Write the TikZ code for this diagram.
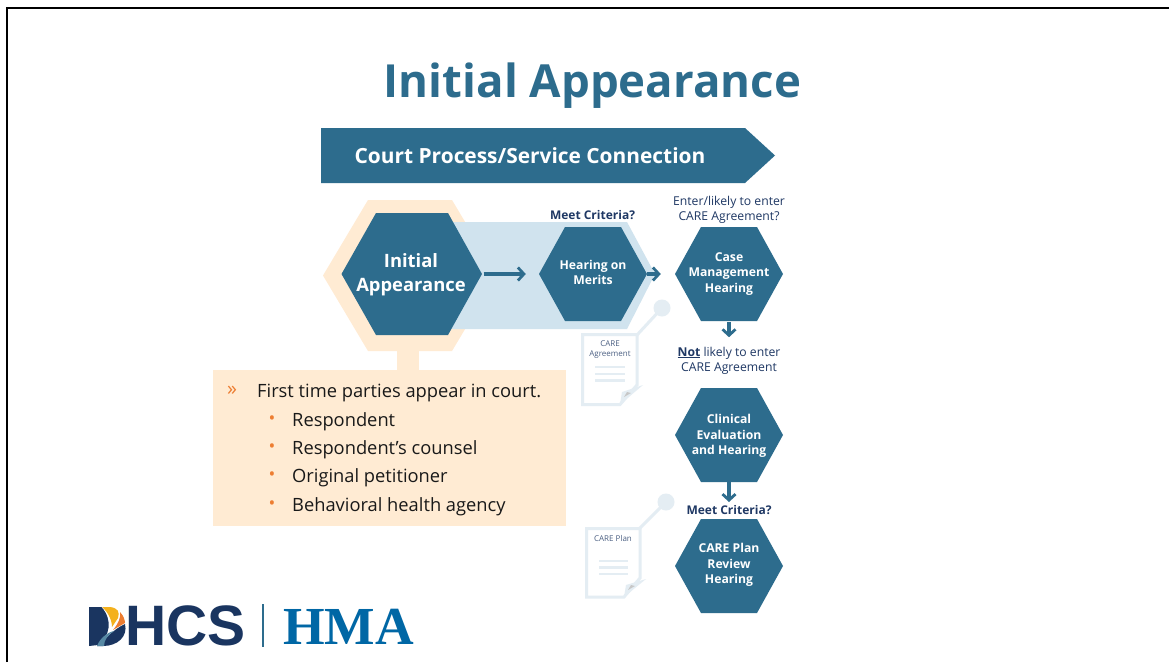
\documentclass[tikz,border=0pt]{standalone}
\usepackage{fontspec}
\setmainfont{Open Sans}
\newfontfamily\serifb{Liberation Serif}
\newfontfamily\sansb{Liberation Sans}
\usetikzlibrary{arrows.meta}
\definecolor{teal}{HTML}{2D6C8D}
\definecolor{cream}{HTML}{FFEBD3}
\definecolor{lblue}{HTML}{D0E3EE}
\definecolor{docc}{HTML}{E4EDF3}
\definecolor{navy}{HTML}{1F3864}
\definecolor{logon}{HTML}{1A3560}
\definecolor{hma}{HTML}{0067A5}
\definecolor{orng}{HTML}{ED7D31}
\tikzset{
  hexlabel/.style={text=white,font=\bfseries\fontsize{12.2}{15.5}\selectfont,align=center,inner sep=0pt},
  flow/.style={draw=teal,line width=3.2pt,-{Straight Barb[length=6pt,width=13pt,line width=2.8pt]}},
  caption/.style={text=navy,font=\fontsize{12.2}{15}\selectfont,align=center,inner sep=0pt},
  doc/.style={draw=docc,line width=3pt,fill=white,line join=miter},
  docline/.style={draw=docc,line width=2.4pt},
  item/.style={anchor=west,inner sep=0pt,text=black!90,font=\fontsize{18.3}{22}\selectfont},
  dot/.style={anchor=center,inner sep=0pt,text=orng,font=\fontsize{18}{20}\selectfont},
}
% cx cy halfwidth halfheight inset
\newcommand{\hexpath}[5]{(#1-#3,#2) -- (#1-#3+#5,#2-#4) -- (#1+#3-#5,#2-#4) -- (#1+#3,#2) -- (#1+#3-#5,#2+#4) -- (#1-#3+#5,#2+#4) -- cycle}
\newcommand{\hexnode}[5]{%
  \fill[teal] \hexpath{#2}{#3}{54}{47}{26};
  \node[inner sep=0pt,minimum width=108pt,minimum height=94pt] (#1) at (#2,#3) {};
  \node[hexlabel] (#1t) at (#2,#3+#4) {#5};}
\begin{document}
\begin{tikzpicture}[x=1pt,y=-1pt]
\useasboundingbox (0,0) rectangle (1169,662);
\fill[white] (0,0) rectangle (1169,662);
\draw[black,line width=2pt] (7,662) -- (7,8) -- (1169,8);
\node[text=teal,font=\bfseries\fontsize{45.6}{50}\selectfont,inner sep=0pt] (title) at (592.5,85.5) {Initial Appearance};
\fill[teal] (321,128) -- (745,128) -- (775,155.5) -- (745,183) -- (321,183) -- cycle;
\node[text=white,font=\bfseries\fontsize{20.9}{24}\selectfont,inner sep=0pt] (banner) at (530,155.5) {Court Process/Service Connection};
% highlights
\fill[cream] (323,275.5) -- (368,200) -- (452,200) -- (497,275.5) -- (452,351) -- (368,351) -- cycle;
\fill[cream] (397,345) rectangle (419,372);
\fill[lblue] (440,222) -- (627,222) -- (655,274) -- (627,329) -- (440,329) -- cycle;
% initial hex
\fill[teal] (341.5,274) -- (376,213) -- (448,213) -- (482,274) -- (448,335) -- (376,335) -- cycle;
\node[hexlabel,font=\bfseries\fontsize{18.4}{24}\selectfont,minimum width=141pt,minimum height=122pt] (initial) at (411,274.5) {Initial\\Appearance};
\hexnode{merits}{593}{274}{-1.5}{\fontsize{12.2}{15}\selectfont Hearing on\\Merits}
\hexnode{case}{729}{274}{0}{Case\\Management\\Hearing}
\hexnode{clinical}{729}{435}{1}{Clinical\\Evaluation\\and Hearing}
\hexnode{plan}{729}{566}{-1}{CARE Plan\\Review\\Hearing}
% connectors
\draw[flow,shorten <=2pt,shorten >=13pt] (initial.east |- merits.west) -- (merits.west);
\draw[flow,shorten >=14pt] (merits.east) -- (case.west);
\draw[flow,shorten <=1pt] (case.south) -- +(0,16);
\coordinate (mc2) at (729,502);
\draw[flow] (clinical.south) -- (mc2);
% captions
\node[caption,font=\bfseries\fontsize{12}{14}\selectfont] (mc1) at (592.5,215) {Meet Criteria?};
\node[caption] (enter) at (729,209.5) {Enter/likely to enter\\CARE Agreement?};
\node[caption] (notl) at (729,360.5) {\underline{\textbf{Not}} likely to enter\\CARE Agreement};
\node[caption,font=\bfseries\fontsize{12}{14}\selectfont] (mcb) at (729,510) {Meet Criteria?};
% doc 1
\fill[docc] (662,308) circle (8.5);
\draw[docc,line width=3pt] (662,308) -- (637,335);
\draw[doc] (582.5,334.5) -- (637,334.5) -- (637,385) -- (620,404.5) -- (582.5,404.5) -- cycle;
\fill[docc] (620,404.5) -- (622,392) -- (643,385) -- cycle;
\fill[black!22] (624,397) -- (627,392) -- (631,393) -- cycle;
\node[text=navy!80,font=\fontsize{8}{10.5}\selectfont,align=center,inner sep=0pt] (doca) at (610,349.5) {CARE\\Agreement};
\foreach \yy in {367,374,380.5} \draw[docline] (595,\yy) -- (625,\yy);
% doc 2
\fill[docc] (666,502) circle (8.5);
\draw[docc,line width=3pt] (666,502) -- (640,528);
\draw[doc] (586.5,528.5) -- (640,528.5) -- (640,578) -- (624,597) -- (586.5,597) -- cycle;
\fill[docc] (624,597) -- (626,585) -- (646,579) -- cycle;
\fill[black!22] (628,590) -- (631,585) -- (635,586) -- cycle;
\node[text=navy!80,font=\fontsize{8}{10}\selectfont,inner sep=0pt] (docb) at (613,538) {CARE Plan};
\foreach \yy in {561,567.5,574} \draw[docline] (599,\yy) -- (628,\yy);
% info box
\fill[cream] (213,370) rectangle (566,526);
\node[text=orng,font=\fontsize{20}{22}\selectfont,inner sep=0pt] (chev) at (232,391) {»};
\node[item] (i0) at (257,393) {First time parties appear in court.};
\node[dot] at (272,420) {•}; \node[item] (i1) at (292,421.5) {Respondent};
\node[dot] at (272,448) {•}; \node[item] (i2) at (292,449.5) {Respondent’s counsel};
\node[dot] at (272,476) {•}; \node[item] (i3) at (292,477.5) {Original petitioner};
\node[dot] at (272,505) {•}; \node[item] (i4) at (292,506.5) {Behavioral health agency};
% logo
\fill[logon] (89,607) -- (101.5,607) .. controls (113,620) and (110,636) .. (98,645) -- (89,646) -- cycle;
\fill[logon] (125,624) .. controls (128,636) and (118,646) .. (103,646) -- (97,646) .. controls (105,640) and (112,630) .. (125,624) -- cycle;
\fill[orng!60!yellow] (102,607) -- (110,607) .. controls (118,608) and (120,612) .. (118,618) -- (112,627) .. controls (112,620) and (108,612) .. (102,607) -- cycle;
\fill[orng] (120,612) .. controls (124,616) and (125,621) .. (125,623) -- (113,630) .. controls (118,624) and (121,618) .. (120,612) -- cycle;
\fill[teal!80] (97,646) .. controls (100,638) and (108,632) .. (114,631) .. controls (108,635) and (104,640) .. (104,646) -- cycle;
\node[anchor=base west,inner sep=0pt,text=logon,font=\sansb\bfseries\fontsize{57}{58}\selectfont] (dhcs) at (125,645) {HCS};
\draw[teal,line width=1.6pt] (263,604) -- (263,647);
\node[anchor=base west,inner sep=0pt,text=hma,font=\serifb\bfseries\fontsize{53.5}{56}\selectfont] (hmal) at (283,644) {HMA};
\end{tikzpicture}
\end{document}
